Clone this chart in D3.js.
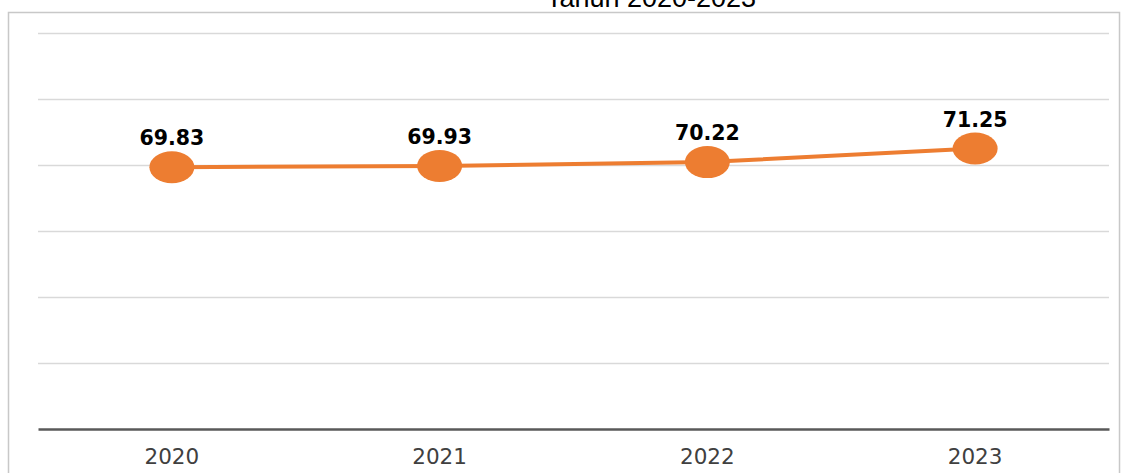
<!DOCTYPE html>
<html>
<head>
<meta charset="utf-8">
<script src="https://cdn.jsdelivr.net/npm/d3@7"></script>
<style>
  body { margin: 0; background: #fff; }
  svg { display: block; }
</style>
</head>
<body>
<div class="graph"></div>
<script>
// data
const years = ["2020", "2021", "2022", "2023"];
const values = [69.83, 69.93, 70.22, 71.25];
const yTicks = [50, 55, 60, 65, 70, 75, 80];
const title = "Tahun 2020-2023";

const SIZE = {X: 1122, Y: 473};
const MARGIN = {TOP: 33, BOTTOM: 44, LEFT: 38, RIGHT: 13};
const DIM = {WIDTH: SIZE.X - MARGIN.LEFT - MARGIN.RIGHT,
             HEIGHT: SIZE.Y - MARGIN.TOP - MARGIN.BOTTOM};

const svg = d3.select(".graph").append("svg")
    .attr("width", SIZE.X)
    .attr("height", SIZE.Y);

// outer chart frame
svg.append("rect")
    .attr("x", 8.5).attr("y", 12.5)
    .attr("width", 1111).attr("height", 480)
    .attr("fill", "none")
    .attr("stroke", "#c8c8c8")
    .attr("stroke-width", 1.5);

// title (cut off at top, as in the source)
svg.append("text")
    .attr("x", 651).attr("y", 7)
    .attr("text-anchor", "middle")
    .attr("font-family", "Liberation Sans, Arial, sans-serif")
    .attr("font-size", 27)
    .attr("fill", "#000")
    .text(title);

const graph = svg.append("g")
    .attr("transform", `translate(${MARGIN.LEFT}, ${MARGIN.TOP})`);

// scales
const x = d3.scaleBand().domain(years).range([0, DIM.WIDTH]);
const y = d3.scaleLinear().domain([50, 80]).range([DIM.HEIGHT, 0]);

// gridlines
graph.append("g")
    .call(d3.axisLeft(y).tickValues(yTicks.slice(1)).tickSize(-DIM.WIDTH).tickFormat(""))
    .call(g => g.select(".domain").remove())
    .call(g => g.selectAll("line").attr("stroke", "#d9d9d9").attr("stroke-width", 1.3));

// x axis
const xAxis = graph.append("g")
    .attr("transform", `translate(0, ${DIM.HEIGHT})`)
    .call(d3.axisBottom(x).tickSize(0).tickPadding(20));
xAxis.select(".domain").attr("stroke", "#595959").attr("stroke-width", 2.5);
xAxis.selectAll("text")
    .attr("font-family", "DejaVu Sans, Verdana, sans-serif")
    .attr("font-size", 21.5)
    .attr("fill", "#404040");

const cx = d => x(d.year) + x.bandwidth() / 2;
const pts = years.map((yr, i) => ({year: yr, value: values[i]}));

// line
graph.append("path")
    .datum(pts)
    .attr("fill", "none")
    .attr("stroke", "#ed7d31")
    .attr("stroke-width", 4)
    .attr("d", d3.line().x(cx).y(d => y(d.value)));

// markers
graph.selectAll("ellipse")
    .data(pts)
    .enter()
    .append("ellipse")
    .attr("cx", cx)
    .attr("cy", d => y(d.value))
    .attr("rx", 22.5)
    .attr("ry", 16)
    .attr("fill", "#ed7d31");

// data labels
graph.selectAll(".lbl")
    .data(pts)
    .enter()
    .append("text")
    .attr("class", "lbl")
    .attr("x", cx)
    .attr("y", d => y(d.value) - 22)
    .attr("text-anchor", "middle")
    .attr("font-family", "DejaVu Sans, Verdana, sans-serif")
    .attr("font-weight", "bold")
    .attr("font-size", 20.5)
    .attr("fill", "#000")
    .text(d => d.value.toFixed(2));
</script>
</body>
</html>
